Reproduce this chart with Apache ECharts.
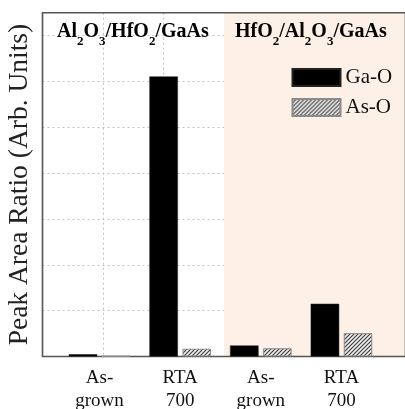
<!DOCTYPE html>
<html>
<head>
<meta charset="utf-8">
<script src="https://cdn.jsdelivr.net/npm/echarts@6/dist/echarts.min.js"></script>
<style>
  html, body { margin: 0; padding: 0; background: #ffffff; }
  #chart { width: 405px; height: 409px; }
</style>
</head>
<body>
<div id="chart"></div>
<script>
// Sample groups along the x axis
const categories = ['As-\ngrown', 'RTA\n700', 'As-\ngrown', 'RTA\n700'];
// Peak area ratios per oxide component
const gaO = [0.05, 6.11, 0.24, 1.15];
const asO = [0.01, 0.17, 0.18, 0.51];
const seriesNames = ['Ga-O', 'As-O'];
// Gate stack labels (digits are set as subscripts)
const stackLabels = ['Al2O3/HfO2/GaAs', 'HfO2/Al2O3/GaAs'];

const SERIF = '"Liberation Serif", "Times New Roman", serif';

// Turn "Al2O3" into rich-text tokens with subscript digits
function stackRich(label) {
  return label.replace(/(\d)|([^\d]+)/g, (m, d, t) => d ? '{s|' + d + '}' : '{b|' + t + '}');
}

// Diagonal hatch fill for the As-O bars
function hatch() {
  const c = document.createElement('canvas');
  c.width = 4; c.height = 4;
  const g = c.getContext('2d');
  g.fillStyle = '#efefef';
  g.fillRect(0, 0, 4, 4);
  g.strokeStyle = '#404040';
  g.lineWidth = 1.2;
  g.beginPath();
  g.moveTo(0, 4); g.lineTo(4, 0);
  g.moveTo(-1, 1); g.lineTo(1, -1);
  g.moveTo(3, 5); g.lineTo(5, 3);
  g.stroke();
  return c;
}

const chart = echarts.init(document.getElementById('chart'), null, { renderer: 'canvas' });

const plotTop = 12.7, plotBottom = 52.5;
const dashed = { show: true, lineStyle: { color: '#c2c2c2', type: [2, 3], width: 1 } };
const richStyle = {
  b: { fontFamily: SERIF, fontSize: 20, fontWeight: 'bold', color: '#111', lineHeight: 20, verticalAlign: 'top' },
  s: { fontFamily: SERIF, fontSize: 13, fontWeight: 'bold', color: '#111', lineHeight: 13, verticalAlign: 'top', padding: [13, 0, 0, 0] }
};

chart.setOption({
  animation: false,
  backgroundColor: '#ffffff',
  grid: [
    // frame + guide grid
    { left: 42.5, width: 363, top: plotTop, bottom: plotBottom, show: true, z: 1.5,
      outerBoundsMode: 'none', containLabel: false,
      borderColor: '#555', borderWidth: 1.6, backgroundColor: 'transparent' },
    // bar groups
    { left: 59.2, width: 322.6, top: plotTop, bottom: plotBottom,
      outerBoundsMode: 'none', containLabel: false }
  ],
  xAxis: [
    { type: 'value', gridIndex: 0, min: 0, max: 6, interval: 1, z: 1,
      axisLine: { show: false }, axisTick: { show: false }, axisLabel: { show: false },
      splitLine: dashed },
    { type: 'category', gridIndex: 1, data: categories,
      axisLine: { show: false }, axisTick: { show: false },
      axisLabel: { fontFamily: SERIF, fontSize: 19, lineHeight: 23, color: '#111', margin: 10.5 },
      splitLine: { show: false } }
  ],
  yAxis: [
    { type: 'value', gridIndex: 0, min: 0, max: 7.5, interval: 1, z: 1,
      axisLine: { show: false }, axisTick: { show: false }, axisLabel: { show: false },
      splitLine: dashed,
      name: 'Peak Area Ratio (Arb. Units)', nameLocation: 'middle', nameGap: 9,
      nameTextStyle: { fontFamily: SERIF, fontSize: 27.5, color: '#222' } },
    { type: 'value', gridIndex: 1, min: 0, max: 7.5, interval: 1, show: false,
      splitLine: { show: false } }
  ],
  legend: {
    data: seriesNames, orient: 'vertical', left: 291.5, top: 67, padding: 0,
    itemWidth: 48, itemHeight: 17, itemGap: 9, icon: 'rect',
    textStyle: { fontFamily: SERIF, fontSize: 21, color: '#111' }
  },
  graphic: [
    { type: 'text', left: 57, top: 22.3, z: 10,
      style: { text: stackRich(stackLabels[0]), rich: richStyle } },
    { type: 'text', left: 235, top: 22.3, z: 10,
      style: { text: stackRich(stackLabels[1]), rich: richStyle } }
  ],
  series: [
    { type: 'scatter', xAxisIndex: 0, yAxisIndex: 0, data: [], z: 0.5, silent: true,
      markArea: { silent: true, itemStyle: { color: '#fdf0e6' },
        data: [[{ xAxis: 3 }, { xAxis: 6 }]] } },
    { name: seriesNames[0], type: 'bar', xAxisIndex: 1, yAxisIndex: 1, z: 2,
      data: gaO, barWidth: 28.5, barGap: '16%',
      itemStyle: { color: '#000', borderColor: '#222', borderWidth: 0.5 } },
    { name: seriesNames[1], type: 'bar', xAxisIndex: 1, yAxisIndex: 1, z: 2,
      data: asO, barWidth: 28.5, barGap: '16%',
      itemStyle: { color: { image: hatch(), repeat: 'repeat' }, borderColor: '#8a8a8a', borderWidth: 1 } }
  ]
});
</script>
</body>
</html>
